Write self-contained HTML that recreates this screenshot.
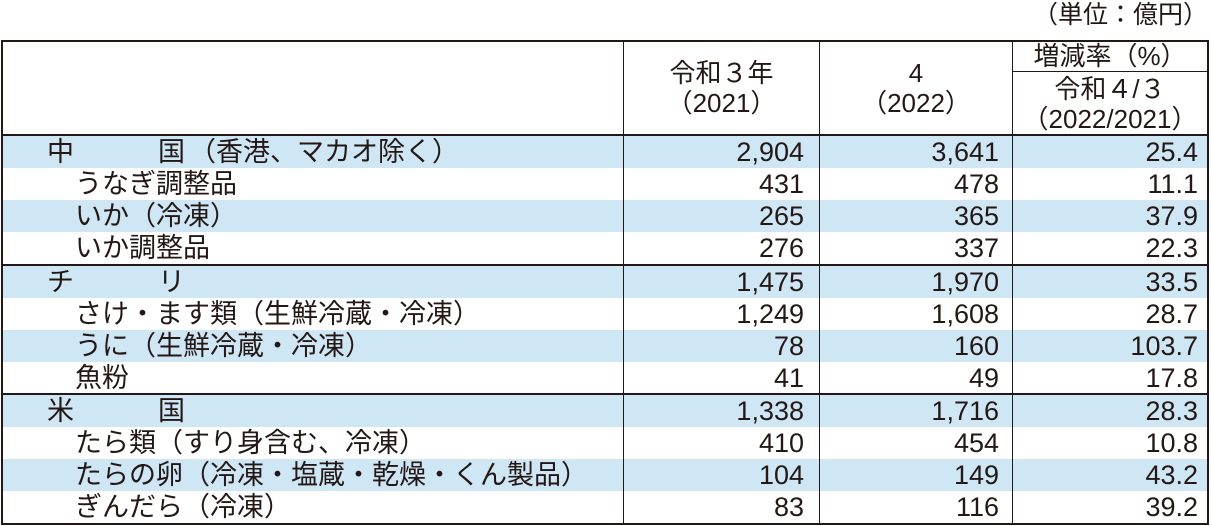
<!DOCTYPE html>
<html><head><meta charset="utf-8"><style>
body{margin:0;width:1212px;height:526px;background:#fff;position:relative;overflow:hidden;font-family:"Liberation Sans","Noto Sans CJK JP",sans-serif;color:#231815;font-size:27px;}
.a{position:absolute;white-space:nowrap;line-height:32px;}
.bg{position:absolute;left:2px;width:1206px;height:32px;background:#cfe6f5;}
.h{position:absolute;background:#231815;}
.r{text-align:right;}
.c{text-align:center;line-height:30px;font-size:26px;}
</style></head><body>
<div class="a" style="right:4px;top:-1px;font-size:25px;">（単位：億円）</div>
<div class="bg" style="top:136px"></div>
<div class="bg" style="top:200px"></div>
<div class="bg" style="top:266px"></div>
<div class="bg" style="top:330px"></div>
<div class="bg" style="top:395px"></div>
<div class="bg" style="top:459px"></div>
<div class="h" style="left:1px;top:40px;width:1208px;height:2px"></div>
<div class="h" style="left:1px;top:134px;width:1208px;height:2px"></div>
<div class="h" style="left:1012px;top:71px;width:197px;height:1px"></div>
<div class="h" style="left:1px;top:264px;width:1208px;height:2px"></div>
<div class="h" style="left:1px;top:393px;width:1208px;height:2px"></div>
<div class="h" style="left:1px;top:523px;width:1208px;height:2px"></div>
<div class="h" style="left:1px;top:40px;width:2px;height:485px"></div>
<div class="h" style="left:623px;top:40px;width:1px;height:485px"></div>
<div class="h" style="left:819px;top:40px;width:1px;height:485px"></div>
<div class="h" style="left:1012px;top:40px;width:1px;height:485px"></div>
<div class="h" style="left:1207px;top:40px;width:2px;height:485px"></div>
<div class="a c" style="left:624px;width:195px;top:58px;">令和３年<br>（2021）</div>
<div class="a c" style="left:820px;width:192px;top:58px;">4<br>（2022）</div>
<div class="a c" style="left:1013px;width:194px;top:41px;">増減率（%）</div>
<div class="a c" style="left:1013px;width:194px;top:74px;">令和４/３<br>（2022/2021）</div>
<div class="a" style="left:47px;top:136px">中<span style="display:inline-block;width:84px"></span>国<span style="display:inline-block;width:4px"></span>（香港、マカオ除く）</div>
<div class="a" style="left:75px;top:168px">うなぎ調整品</div>
<div class="a" style="left:75px;top:200px">いか（冷凍）</div>
<div class="a" style="left:75px;top:232px">いか調整品</div>
<div class="a" style="left:47px;top:266px">チ<span style="display:inline-block;width:84px"></span>リ</div>
<div class="a" style="left:75px;top:298px">さけ・ます類（生鮮冷蔵・冷凍）</div>
<div class="a" style="left:75px;top:330px">うに（生鮮冷蔵・冷凍）</div>
<div class="a" style="left:75px;top:362px">魚粉</div>
<div class="a" style="left:47px;top:395px">米<span style="display:inline-block;width:84px"></span>国</div>
<div class="a" style="left:75px;top:427px">たら類（すり身含む、冷凍）</div>
<div class="a" style="left:75px;top:459px">たらの卵（冷凍・塩蔵・乾燥・くん製品）</div>
<div class="a" style="left:75px;top:491px">ぎんだら（冷凍）</div>
<div class="a r" style="right:408px;top:136px">2,904<br>431<br>265<br>276</div>
<div class="a r" style="right:213px;top:136px">3,641<br>478<br>365<br>337</div>
<div class="a r" style="right:14px;top:136px">25.4<br>11.1<br>37.9<br>22.3</div>
<div class="a r" style="right:408px;top:266px">1,475<br>1,249<br>78<br>41</div>
<div class="a r" style="right:213px;top:266px">1,970<br>1,608<br>160<br>49</div>
<div class="a r" style="right:14px;top:266px">33.5<br>28.7<br>103.7<br>17.8</div>
<div class="a r" style="right:408px;top:395px">1,338<br>410<br>104<br>83</div>
<div class="a r" style="right:213px;top:395px">1,716<br>454<br>149<br>116</div>
<div class="a r" style="right:14px;top:395px">28.3<br>10.8<br>43.2<br>39.2</div>
</body></html>
